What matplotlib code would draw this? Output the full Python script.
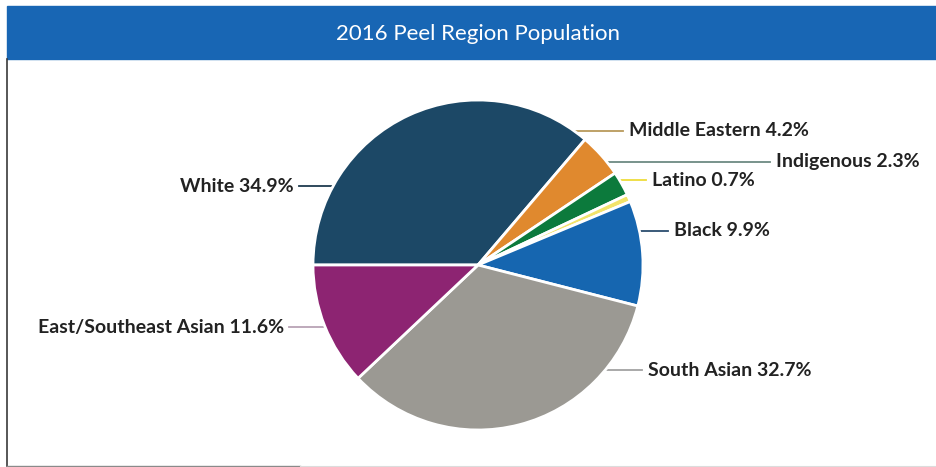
import numpy as np
import matplotlib.pyplot as plt
from matplotlib.patches import Rectangle

# population share by group, in drawing order (clockwise from 9 o'clock)
groups = ["White", "Middle Eastern", "Indigenous", "Latino", "Black",
          "South Asian", "East/Southeast Asian"]
shares = [34.9, 4.2, 2.3, 0.7, 9.9, 32.7, 11.6]
colors = ["#1c4866", "#e0892e", "#0c7a3c", "#f2e36a", "#1666b0",
          "#9b9993", "#8d2472"]
line_colors = ["#1f3a4f", "#b99a5c", "#6d8a82", "#eedc3a", "#2b4d6e",
               "#a3a3a3", "#b9a3b5"]

# label placement in pixels: (y, leader end x, side)
label_y = [186, 131, 162, 180, 231, 370, 327]
leader_end = [299, 623, 770, 646, 668, 642, 289]
side = ["left", "right", "right", "right", "right", "right", "left"]

W, H = 937, 467
cx, cy, R = 478, 265, 165

fig = plt.figure(figsize=(W / 100, H / 100), dpi=100)
bg = fig.add_axes([0, 0, 1, 1])
bg.set_xlim(0, W)
bg.set_ylim(H, 0)
bg.axis("off")

# header bar and frame
bg.add_patch(Rectangle((7, 6), W - 7, 53, color="#1866b4", zorder=1))
bg.plot([7, 7], [59, 466], color="#3a3a3a", lw=1.2, zorder=1)
bg.plot([7, 300], [466, 466], color="#8a8a8a", lw=1.0, zorder=1)
bg.plot([300, W], [466, 466], color="#dcdcdc", lw=0.8, zorder=1)
bg.text(478, 34, "2016 Peel Region Population", color="white",
        fontsize=16, family=["Lato", "DejaVu Sans"], ha="center", va="center")

pie_ax = fig.add_axes([(cx - R) / W, (H - cy - R) / H, 2 * R / W, 2 * R / H],
                      zorder=2)
pie_ax.pie(shares, colors=colors, startangle=180, counterclock=False,
           radius=1, wedgeprops=dict(edgecolor="white", linewidth=2.0))
pie_ax.set_xlim(-1, 1)
pie_ax.set_ylim(-1, 1)
pie_ax.axis("off")

font = dict(fontsize=14, fontweight="bold", color="#222222",
            family=["Lato", "DejaVu Sans"])

for name, val, y, xe, s, lc in zip(groups, shares, label_y, leader_end,
                                   side, line_colors):
    dx = np.sqrt(R ** 2 - (cy - y) ** 2)
    label = f"{name} {val}%"
    if s == "right":
        x0 = cx + dx - 4
        bg.plot([x0, xe], [y, y], color=lc, lw=1.3, zorder=1)
        bg.text(xe + 6, y, label, ha="left", va="center", **font)
    else:
        x0 = cx - dx + 4
        bg.plot([xe, x0], [y, y], color=lc, lw=1.3, zorder=1)
        bg.text(xe - 5, y, label, ha="right", va="center", **font)

fig.savefig("out.png", dpi=100)
